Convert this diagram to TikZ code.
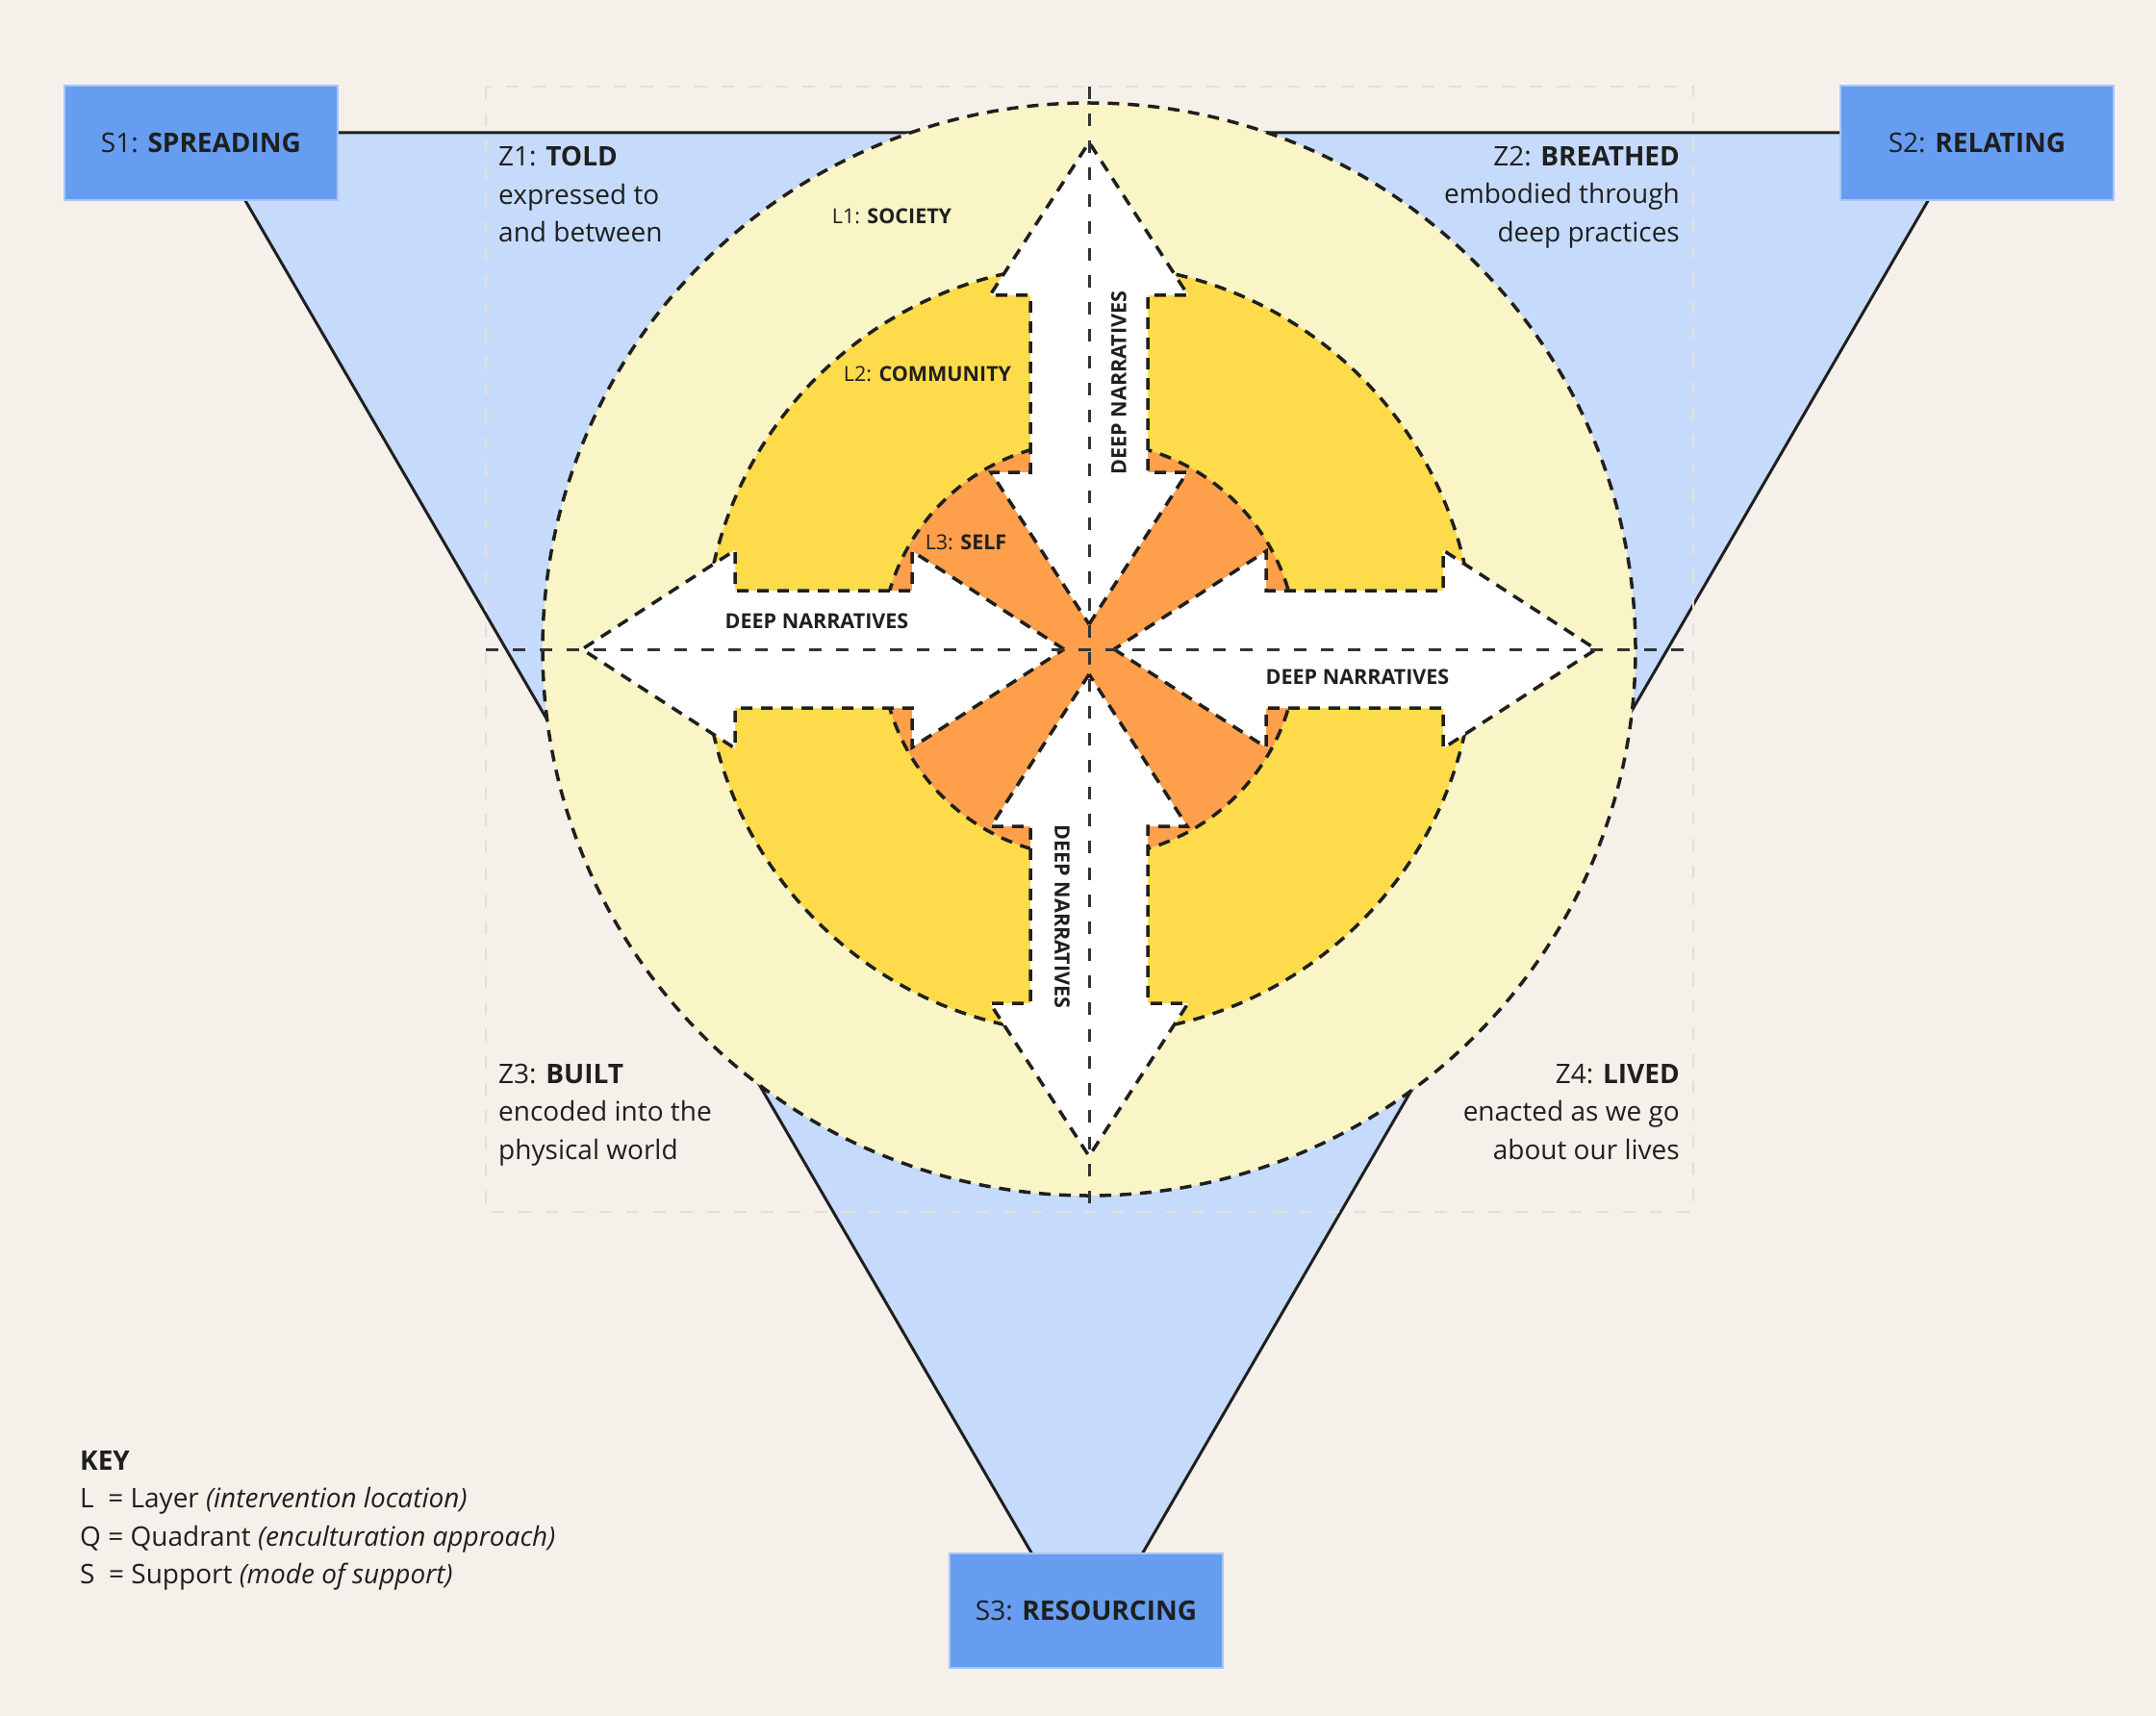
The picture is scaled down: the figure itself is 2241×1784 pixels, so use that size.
\documentclass[tikz,border=0pt]{standalone}
\usepackage{fontspec}
\setmainfont{Open Sans}

\definecolor{bgbeige}{HTML}{F5F1EA}
\definecolor{triblue}{HTML}{C6DBFB}
\definecolor{boxblue}{HTML}{669DF1}
\definecolor{boxedge}{HTML}{A9C6F3}
\definecolor{paleyellow}{HTML}{F9F5C6}
\definecolor{ringyellow}{HTML}{FEDB4B}
\definecolor{selforange}{HTML}{FD9F4B}
\definecolor{inkdark}{HTML}{1F1F1F}
\definecolor{axisgrey}{HTML}{333333}
\definecolor{faintgrey}{HTML}{E4DFD6}

\begin{document}
\begin{tikzpicture}[x=1pt, y=-1pt,
    % Define the styles
    dashedge/.style={draw=inkdark, line width=3.5pt, dash pattern=on 12pt off 9pt},
    crossaxis/.style={draw=axisgrey, line width=3pt, dash pattern=on 13pt off 15pt},
    supportbox/.style={fill=boxblue, draw=boxedge, line width=1.5pt,
        minimum width=284pt, minimum height=119pt, inner sep=0pt,
        font=\fontsize{28}{34}\selectfont, text=inkdark},
    zonetext/.style={inner sep=0pt, font=\fontsize{28}{39.5}\selectfont, text=inkdark},
    layertext/.style={inner sep=0pt, font=\fontsize{21.5}{26}\selectfont, text=inkdark}
]

% Background and page size
\fill[bgbeige] (0,0) rectangle (2241,1784);
\useasboundingbox (0,0) rectangle (2241,1784);

% Define the points
\coordinate (C) at (1132,675);
\coordinate (T1) at (214,138);
\coordinate (T2) at (2045,138);
\coordinate (T3) at (1130,1714);

% Draw the support triangle
\filldraw[fill=triblue, draw=inkdark, line width=3pt] (T1) -- (T2) -- (T3) -- cycle;

% Faint quadrant frame
\draw[draw=faintgrey, line width=2pt, dash pattern=on 13pt off 15pt] (505,90) rectangle (1760,1260);

% Draw the layers
\filldraw[fill=paleyellow, dashedge] (C) circle (568pt);
\filldraw[fill=ringyellow, dashedge] (C) circle (400pt);
\filldraw[fill=selforange, dashedge] (C) circle (216pt);

% Draw the deep narrative arrows
\foreach \a in {0,90,180,270}
  \filldraw[fill=white, dashedge, shift={(C)}, rotate=\a]
    (26,0) -- (184,102) -- (184,61) -- (368,61) -- (368,103) -- (527,0)
    -- (368,-103) -- (368,-61) -- (184,-61) -- (184,-102) -- cycle;

% Draw the axes
\draw[crossaxis] (1132,90) -- (1132,1260);
\draw[crossaxis] (505,675) -- (1760,675);

% Add the support boxes
\node[supportbox] (s1) at (209,148.5) {S1: \textbf{SPREADING}};
\node[supportbox] (s2) at (2055,148.5) {S2: \textbf{RELATING}};
\node[supportbox] (s3) at (1129,1674.5) {S3: \textbf{RESOURCING}};

% Add the zone labels
\node[zonetext, anchor=north west, align=left] (z1) at (518,152)
    {Z1: \textbf{TOLD}\\expressed to\\and between};
\node[zonetext, anchor=north east, align=right] (z2) at (1746,152)
    {Z2: \textbf{BREATHED}\\embodied through\\deep practices};
\node[zonetext, anchor=north west, align=left] (z3) at (518,1106)
    {Z3: \textbf{BUILT}\\encoded into the\\physical world};
\node[zonetext, anchor=north east, align=right] (z4) at (1746,1106)
    {Z4: \textbf{LIVED}\\enacted as we go\\about our lives};

% Add the layer labels
\node[layertext] (l1) at (927,225) {L1: \textbf{SOCIETY}};
\node[layertext] (l2) at (964,389) {L2: \textbf{COMMUNITY}};
\node[layertext] (l3) at (1004,564) {L3: \textbf{SELF}};

% Add the arrow labels
\node[layertext] (dnl) at (849,646) {\textbf{DEEP NARRATIVES}};
\node[layertext] (dnr) at (1411,704) {\textbf{DEEP NARRATIVES}};
\node[layertext, rotate=90] (dnt) at (1163,398) {\textbf{DEEP NARRATIVES}};
\node[layertext, rotate=-90] (dnb) at (1104,953) {\textbf{DEEP NARRATIVES}};

% Add the key
\node[zonetext, anchor=north west, align=left] (key) at (83,1508)
    {\textbf{KEY}\\L\ \ = Layer \textit{(intervention location)}\\Q = Quadrant \textit{(enculturation approach)}\\S\ \ = Support \textit{(mode of support)}};

\end{tikzpicture}
\end{document}
